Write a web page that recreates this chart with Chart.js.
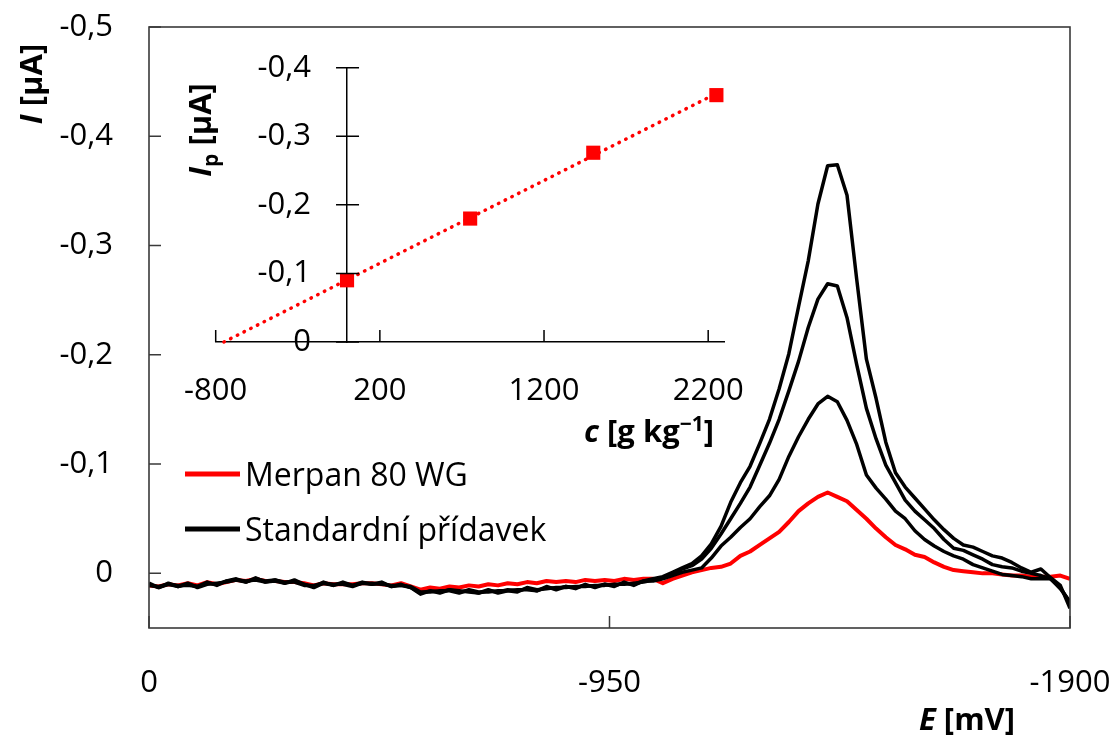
<!DOCTYPE html>
<html>
<head>
<meta charset="utf-8">
<script src="https://cdn.jsdelivr.net/npm/chart.js@4.4.1/dist/chart.umd.min.js"></script>
<style>
  body { margin: 0; background: #fff; }
  #wrap { position: relative; width: 1114px; height: 735px; }
  #inset { position: absolute; left: 170px; top: 40px; }
</style>
</head>
<body>
<div id="wrap">
  <canvas id="main" width="1114" height="735"></canvas>
  <canvas id="inset" width="580" height="420"></canvas>
</div>
<script>
// potential E [mV], one reading every 20 mV
const potential = [
  0, -20, -40, -60, -80, -100, -120, -140, -160, -180,
  -200, -220, -240, -260, -280, -300, -320, -340, -360, -380,
  -400, -420, -440, -460, -480, -500, -520, -540, -560, -580,
  -600, -620, -640, -660, -680, -700, -720, -740, -760, -780,
  -800, -820, -840, -860, -880, -900, -920, -940, -960, -980,
  -1000, -1020, -1040, -1060, -1080, -1100, -1120, -1140, -1160, -1180,
  -1200, -1220, -1240, -1260, -1280, -1300, -1320, -1340, -1360, -1380,
  -1400, -1420, -1440, -1460, -1480, -1500, -1520, -1540, -1560, -1580,
  -1600, -1620, -1640, -1660, -1680, -1700, -1720, -1740, -1760, -1780,
  -1800, -1820, -1840, -1860, -1880, -1900
];

// current I [µA] – sample
const merpan = [
  0.011, 0.012, 0.010, 0.011, 0.009, 0.011, 0.008, 0.010, 0.008, 0.006,
  0.007, 0.005, 0.007, 0.007, 0.008, 0.008, 0.009, 0.011, 0.009, 0.010,
  0.010, 0.010, 0.009, 0.009, 0.010, 0.011, 0.009, 0.012, 0.015, 0.013,
  0.014, 0.012, 0.013, 0.011, 0.012, 0.010, 0.011, 0.009, 0.010, 0.008,
  0.009, 0.007, 0.008, 0.007, 0.008, 0.006, 0.007, 0.006, 0.007, 0.005,
  0.006, 0.005, 0.005, 0.009, 0.005, 0.002, -0.001, -0.003, -0.005, -0.006,
  -0.009, -0.016, -0.020, -0.026, -0.032, -0.038, -0.047, -0.057, -0.064, -0.070,
  -0.074, -0.070, -0.066, -0.058, -0.050, -0.041, -0.033, -0.026, -0.022, -0.017,
  -0.015, -0.010, -0.006, -0.003, -0.002, -0.001, 0.000, 0.000, 0.001, 0.002,
  0.002, 0.003, 0.003, 0.003, 0.002, 0.005
];

// current I [µA] – after standard additions 1..3
const addition1 = [
  0.009, 0.013, 0.010, 0.011, 0.011, 0.012, 0.008, 0.011, 0.007, 0.006,
  0.008, 0.004, 0.008, 0.007, 0.009, 0.006, 0.010, 0.013, 0.009, 0.011,
  0.008, 0.011, 0.009, 0.010, 0.008, 0.012, 0.011, 0.013, 0.019, 0.016,
  0.018, 0.015, 0.016, 0.017, 0.018, 0.015, 0.018, 0.016, 0.015, 0.015,
  0.016, 0.012, 0.015, 0.012, 0.014, 0.010, 0.013, 0.010, 0.012, 0.008,
  0.011, 0.007, 0.007, 0.005, 0.002, -0.001, -0.003, -0.005, -0.014, -0.025,
  -0.033, -0.042, -0.050, -0.061, -0.071, -0.086, -0.107, -0.125, -0.141, -0.155,
  -0.162, -0.157, -0.140, -0.118, -0.090, -0.078, -0.068, -0.057, -0.050, -0.039,
  -0.031, -0.025, -0.020, -0.016, -0.013, -0.008, -0.005, -0.002, 0.001, 0.002,
  0.003, 0.005, 0.005, 0.005, 0.013, 0.027
];
const addition2 = [
  0.011, 0.012, 0.010, 0.012, 0.009, 0.013, 0.010, 0.009, 0.008, 0.006,
  0.007, 0.006, 0.008, 0.006, 0.008, 0.008, 0.011, 0.011, 0.009, 0.010,
  0.010, 0.012, 0.009, 0.009, 0.010, 0.011, 0.011, 0.012, 0.017, 0.017,
  0.016, 0.016, 0.018, 0.015, 0.017, 0.017, 0.016, 0.016, 0.017, 0.013,
  0.015, 0.014, 0.013, 0.013, 0.012, 0.012, 0.011, 0.011, 0.010, 0.010,
  0.009, 0.008, 0.006, 0.004, 0.000, -0.004, -0.007, -0.013, -0.023, -0.036,
  -0.050, -0.064, -0.079, -0.099, -0.119, -0.141, -0.167, -0.194, -0.225, -0.251,
  -0.265, -0.263, -0.234, -0.191, -0.151, -0.123, -0.099, -0.083, -0.067, -0.057,
  -0.049, -0.041, -0.031, -0.023, -0.021, -0.017, -0.013, -0.008, -0.006, -0.005,
  -0.002, 0.000, 0.002, 0.005, 0.014, 0.026
];
const addition3 = [
  0.010, 0.013, 0.009, 0.012, 0.010, 0.012, 0.009, 0.010, 0.007, 0.005,
  0.008, 0.005, 0.007, 0.006, 0.009, 0.007, 0.010, 0.012, 0.008, 0.011,
  0.009, 0.011, 0.008, 0.010, 0.009, 0.012, 0.010, 0.013, 0.018, 0.016,
  0.017, 0.015, 0.017, 0.016, 0.018, 0.016, 0.017, 0.015, 0.016, 0.014,
  0.016, 0.013, 0.014, 0.012, 0.013, 0.011, 0.012, 0.010, 0.011, 0.009,
  0.010, 0.007, 0.005, 0.003, -0.001, -0.005, -0.009, -0.016, -0.027, -0.043,
  -0.065, -0.083, -0.098, -0.119, -0.141, -0.169, -0.201, -0.244, -0.286, -0.338,
  -0.373, -0.374, -0.346, -0.269, -0.196, -0.160, -0.120, -0.092, -0.079, -0.069,
  -0.059, -0.049, -0.040, -0.032, -0.026, -0.024, -0.020, -0.016, -0.014, -0.010,
  -0.005, -0.001, -0.004, 0.004, 0.011, 0.032
];

// calibration: added concentration vs. peak current
const conc = [0, 750, 1500, 2250];
const peakCurrent = [-0.09, -0.18, -0.276, -0.36];

const eTicks = [0, -950, -1900];
const iTicks = [-0.5, -0.4, -0.3, -0.2, -0.1, 0];
const cTicks = [-800, 200, 1200, 2200];
const ipTicks = [-0.4, -0.3, -0.2, -0.1, 0];

const FONT = '"Open Sans", sans-serif';
const tickFont = { family: FONT, size: 31 };
const fmt = v => (v === 0 ? '0' : v.toFixed(1).replace('.', ','));
const toXY = (xs, ys) => xs.map((x, k) => ({ x: x, y: ys[k] }));

// keep the plot area where the layout padding puts it
const noOverhangX = s => { s.paddingLeft = 0; s.paddingRight = 0; };
const noOverhangY = s => { s.paddingTop = 0; s.paddingBottom = 0; };

// short tick marks: into the plot, and optionally across a vertical axis
const innerTicks = {
  id: 'innerTicks',
  afterDraw(chart, args, opts) {
    const ctx = chart.ctx;
    ctx.save();
    ctx.strokeStyle = opts.color;
    ctx.lineWidth = opts.width;
    Object.values(chart.scales).forEach(scale => {
      const base = scale.isHorizontal() ? scale.top : scale.right;
      ctx.beginPath();
      scale.ticks.forEach(t => {
        const p = scale.getPixelForValue(t.value);
        if (scale.isHorizontal()) {
          ctx.moveTo(p, base);
          ctx.lineTo(p, base - opts.length);
        } else {
          ctx.moveTo(base - (opts.crossY || 0), p);
          ctx.lineTo(base + opts.length, p);
        }
      });
      ctx.stroke();
    });
    ctx.restore();
  }
};

// move a left-hand y axis so that it crosses x at a given value
const crossAt = {
  id: 'crossAt',
  afterLayout(chart, args, opts) {
    const y = chart.scales.y;
    const px = chart.scales.x.getPixelForValue(opts.x);
    y.width = opts.labelRoom;
    y.left = px - opts.labelRoom;
    y.right = px;
    y._labelItems = null;
    y._gridLineItems = null;
  }
};

// box round the plot area
const frame = {
  id: 'frame',
  afterDraw(chart, args, opts) {
    const { ctx, chartArea: a } = chart;
    ctx.save();
    ctx.strokeStyle = opts.color;
    ctx.lineWidth = opts.width;
    ctx.strokeRect(a.left, a.top, a.right - a.left, a.bottom - a.top);
    ctx.restore();
  }
};

// axis titles with mixed italic / sub- and superscript runs
function drawRuns(ctx, runs, x, y, rotate) {
  ctx.save();
  ctx.translate(x, y);
  if (rotate) ctx.rotate(-Math.PI / 2);
  ctx.fillStyle = '#000';
  ctx.textBaseline = 'alphabetic';
  let w = 0;
  runs.forEach(r => { ctx.font = r.font; w += ctx.measureText(r.text).width; });
  let cx = -w / 2;
  runs.forEach(r => {
    ctx.font = r.font;
    ctx.fillText(r.text, cx, r.dy || 0);
    cx += ctx.measureText(r.text).width;
  });
  ctx.restore();
}
const titles = {
  id: 'titles',
  afterDraw(chart, args, opts) {
    opts.items.forEach(it => drawRuns(chart.ctx, it.runs, it.x, it.y, it.rotate));
  }
};

// legend placed inside the plot, lower left
const seriesKey = {
  id: 'seriesKey',
  afterDraw(chart, args, opts) {
    const ctx = chart.ctx;
    ctx.save();
    ctx.font = opts.font;
    ctx.fillStyle = '#000';
    chart.data.datasets.filter(d => d.label).forEach((d, k) => {
      const y = opts.y + k * opts.gap;
      ctx.strokeStyle = d.borderColor;
      ctx.lineWidth = 5;
      ctx.beginPath();
      ctx.moveTo(opts.x, y);
      ctx.lineTo(opts.x + 55, y);
      ctx.stroke();
      ctx.fillText(d.label, opts.x + 60, y + 11.5);
    });
    ctx.restore();
  }
};

const B = 'bold 31px ' + FONT;
const BI = 'italic bold 31px ' + FONT;
const SMALL = 'bold 21px ' + FONT;

const blackLine = { borderColor: '#000', borderWidth: 3.5, pointRadius: 0, order: 0, borderJoinStyle: 'round' };

new Chart(document.getElementById('main'), {
  type: 'line',
  data: {
    datasets: [
      { label: 'Merpan 80 WG', data: toXY(potential, merpan), borderColor: '#ff0000', borderWidth: 4, pointRadius: 0, order: 1, borderJoinStyle: 'round' },
      Object.assign({ label: 'Standardní přídavek', data: toXY(potential, addition1) }, blackLine),
      Object.assign({ data: toXY(potential, addition2) }, blackLine),
      Object.assign({ data: toXY(potential, addition3) }, blackLine)
    ]
  },
  options: {
    responsive: false,
    animation: false,
    layout: { padding: { top: 27, right: 44, left: 0, bottom: 0 } },
    plugins: {
      legend: { display: false },
      tooltip: { enabled: false },
      innerTicks: { color: '#3a3a3a', width: 1.5, length: 12 },
      frame: { color: '#3a3a3a', width: 1.6 },
      seriesKey: { x: 185, y: 474, gap: 55, font: '32px ' + FONT },
      titles: {
        items: [
          { runs: [{ text: 'I', font: BI }, { text: ' [µA]', font: B }], x: 42, y: 84, rotate: true },
          { runs: [{ text: 'E', font: BI }, { text: ' [mV]', font: B }], x: 967, y: 730 }
        ]
      }
    },
    scales: {
      x: {
        type: 'linear', reverse: true, min: -1900, max: 0,
        afterBuildTicks: s => { s.ticks = eTicks.map(v => ({ value: v })); },
        afterFit: s => { s.height = 107; noOverhangX(s); },
        grid: { display: false, drawTicks: false },
        border: { display: false },
        ticks: { font: tickFont, color: '#000', padding: 37, maxRotation: 0, autoSkip: false, callback: v => String(v) }
      },
      y: {
        type: 'linear', reverse: true, min: -0.5, max: 0.05,
        afterBuildTicks: s => { s.ticks = iTicks.map(v => ({ value: v })); },
        afterFit: s => { s.width = 149; noOverhangY(s); },
        grid: { display: false, drawTicks: false },
        border: { display: false },
        ticks: { font: tickFont, color: '#000', padding: 36, callback: fmt }
      }
    }
  },
  plugins: [innerTicks, frame, seriesKey, titles]
});

// least-squares line through the calibration points, run back to zero current
const n = conc.length;
const mx = conc.reduce((a, b) => a + b, 0) / n;
const my = peakCurrent.reduce((a, b) => a + b, 0) / n;
let sxy = 0, sxx = 0;
conc.forEach((c, k) => { sxy += (c - mx) * (peakCurrent[k] - my); sxx += (c - mx) * (c - mx); });
const slope = sxy / sxx;
const icpt = my - slope * mx;
const fitX = [-icpt / slope, conc[n - 1]];
const fitY = fitX.map(c => icpt + slope * c);

new Chart(document.getElementById('inset'), {
  type: 'line',
  data: {
    datasets: [
      { data: toXY(fitX, fitY), borderColor: '#ff0000', borderWidth: 3.5, borderDash: [0.5, 7], borderCapStyle: 'round', pointRadius: 0, order: 1 },
      { data: toXY(conc, peakCurrent), showLine: false, pointStyle: 'rect', pointRadius: 10, pointBorderWidth: 0, backgroundColor: '#ff0000', borderColor: '#ff0000', order: 0 }
    ]
  },
  options: {
    responsive: false,
    animation: false,
    clip: false,
    layout: { padding: { top: 27.7, left: 45.7, right: 25.4, bottom: 0 } },
    plugins: {
      legend: { display: false },
      tooltip: { enabled: false },
      innerTicks: { color: '#000', width: 1.5, length: 12, crossY: 11 },
      crossAt: { x: 0, labelRoom: 140 },
      titles: {
        items: [
          { runs: [{ text: 'I', font: BI }, { text: 'p', font: SMALL, dy: 7 }, { text: ' [µA]', font: B }], x: 41, y: 90, rotate: true },
          { runs: [{ text: 'c', font: BI }, { text: ' [g kg', font: B }, { text: '−1', font: SMALL, dy: -11 }, { text: ']', font: B }], x: 479, y: 402 }
        ]
      }
    },
    scales: {
      x: {
        type: 'linear', min: -800, max: 2300,
        afterBuildTicks: s => { s.ticks = cTicks.map(v => ({ value: v })); },
        afterFit: s => { s.height = 118; noOverhangX(s); },
        grid: { display: false, drawTicks: false },
        border: { color: '#000', width: 1.5 },
        ticks: { font: tickFont, color: '#000', padding: 31, maxRotation: 0, autoSkip: false, callback: v => String(v) }
      },
      y: {
        type: 'linear', position: 'left', reverse: true, min: -0.4, max: 0,
        afterBuildTicks: s => { s.ticks = ipTicks.map(v => ({ value: v })); },
        afterFit: s => { s.width = 0; noOverhangY(s); },
        grid: { display: false, drawTicks: false },
        border: { color: '#000', width: 1.5 },
        ticks: { font: tickFont, color: '#000', padding: 36, callback: fmt }
      }
    }
  },
  plugins: [crossAt, innerTicks, titles]
});
</script>
</body>
</html>
